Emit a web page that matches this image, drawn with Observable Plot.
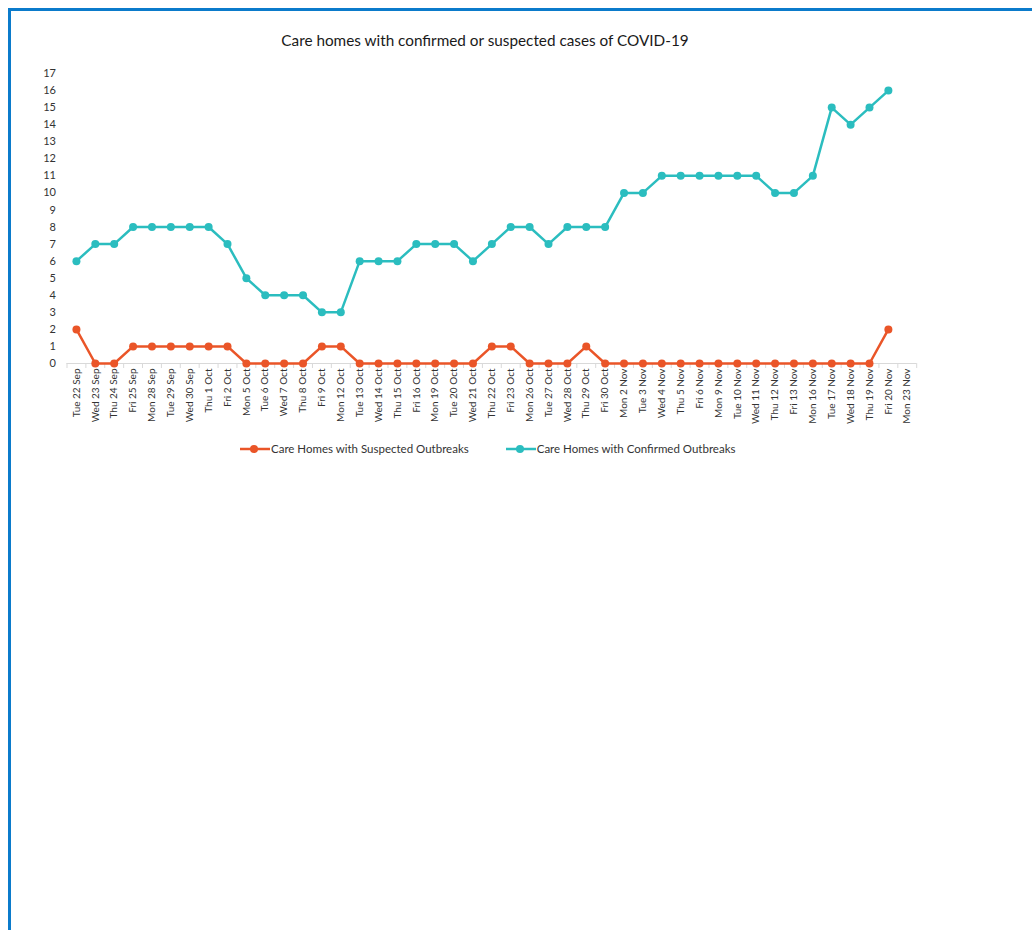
<!DOCTYPE html>
<html>
<head>
<meta charset="utf-8">
<script src="https://cdn.jsdelivr.net/npm/d3@7"></script>
<script src="https://cdn.jsdelivr.net/npm/@observablehq/plot@0.6"></script>
<style>
  html, body { margin: 0; padding: 0; width: 1032px; height: 930px; overflow: hidden; background: #fff; font-family: Lato, "Open Sans", sans-serif; }
  #frame { position: absolute; left: 8px; top: 8px; width: 1030px; height: 930px; border-top: 3px solid #0b7bcb; border-left: 3px solid #0b7bcb; }
  #title { position: absolute; left: 0; top: 31px; width: 970px; text-align: center; font-size: 15.3px; color: #1a1a1a; }
  #chart { position: absolute; left: 0; top: 60px; }
  #legend { position: absolute; top: 442px; left: 240px; font-size: 11.5px; color: #333; display: flex; align-items: center; white-space: nowrap; }
  .item { display: flex; align-items: center; }
  .item svg { margin-right: 1px; }
</style>
</head>
<body>
<div id="frame"></div>
<div id="title">Care homes with confirmed or suspected cases of COVID-19</div>
<div id="chart"></div>
<div id="legend"></div>
<script>
const dates = ["Tue 22 Sep","Wed 23 Sep","Thu 24 Sep","Fri 25 Sep","Mon 28 Sep","Tue 29 Sep","Wed 30 Sep","Thu 1 Oct","Fri 2 Oct","Mon 5 Oct","Tue 6 Oct","Wed 7 Oct","Thu 8 Oct","Fri 9 Oct","Mon 12 Oct","Tue 13 Oct","Wed 14 Oct","Thu 15 Oct","Fri 16 Oct","Mon 19 Oct","Tue 20 Oct","Wed 21 Oct","Thu 22 Oct","Fri 23 Oct","Mon 26 Oct","Tue 27 Oct","Wed 28 Oct","Thu 29 Oct","Fri 30 Oct","Mon 2 Nov","Tue 3 Nov","Wed 4 Nov","Thu 5 Nov","Fri 6 Nov","Mon 9 Nov","Tue 10 Nov","Wed 11 Nov","Thu 12 Nov","Fri 13 Nov","Mon 16 Nov","Tue 17 Nov","Wed 18 Nov","Thu 19 Nov","Fri 20 Nov","Mon 23 Nov"];
const suspected = [2,0,0,1,1,1,1,1,1,0,0,0,0,1,1,0,0,0,0,0,0,0,1,1,0,0,0,1,0,0,0,0,0,0,0,0,0,0,0,0,0,0,0,2];
const confirmed = [6,7,7,8,8,8,8,8,7,5,4,4,4,3,3,6,6,6,7,7,7,6,7,8,8,7,8,8,8,10,10,11,11,11,11,11,11,10,10,11,15,14,15,16];
const yTicks = [0,1,2,3,4,5,6,7,8,9,10,11,12,13,14,15,16,17];
const seriesNames = ["Care Homes with Suspected Outbreaks","Care Homes with Confirmed Outbreaks"];
const colors = ["#ea5528","#2bbdbf"];

const susData = suspected.map((v, i) => ({date: dates[i], value: v}));
const conData = confirmed.map((v, i) => ({date: dates[i], value: v}));

const W = 1032, H = 380, ML = 66.5, MR = 115.8, MT = 13, MB = 77;
const step = (W - ML - MR) / dates.length;

const chart = Plot.plot({
  width: W, height: H,
  marginLeft: ML, marginRight: MR, marginTop: MT, marginBottom: MB,
  style: {fontFamily: "Lato, 'Open Sans', sans-serif", background: "transparent"},
  x: {type: "point", domain: dates, padding: 0.5, axis: null},
  y: {domain: [0, 17], axis: null},
  marks: [
    Plot.ruleY([0], {stroke: "#d9d9d9", strokeWidth: 1}),
    Plot.ruleX(dates, {x: d => d, y1: 0, y2: 0, insetBottom: -5, dx: -step / 2, stroke: "#d9d9d9"}),
    Plot.ruleX(dates.slice(-1), {x: d => d, y1: 0, y2: 0, insetBottom: -5, dx: step / 2, stroke: "#d9d9d9"}),
    Plot.axisY(yTicks, {tickSize: 0, tickPadding: 11, fontSize: 11, fill: "#333", label: null, tickFormat: d => String(d)}),
    Plot.axisX(dates, {tickSize: 0, tickPadding: 5, tickRotate: -90, fontSize: 10, fill: "#333", label: null}),
    Plot.line(susData, {x: "date", y: "value", stroke: colors[0], strokeWidth: 2.5}),
    Plot.dot(susData, {x: "date", y: "value", r: 4, fill: colors[0]}),
    Plot.line(conData, {x: "date", y: "value", stroke: colors[1], strokeWidth: 2.5}),
    Plot.dot(conData, {x: "date", y: "value", r: 4, fill: colors[1]})
  ]
});
document.getElementById("chart").appendChild(chart);

const legend = document.getElementById("legend");
seriesNames.forEach((name, i) => {
  const item = document.createElement("div");
  item.className = "item";
  if (i > 0) item.style.marginLeft = "37px";
  item.innerHTML = `<svg width="30" height="10"><line x1="0" y1="5" x2="30" y2="5" stroke="${colors[i]}" stroke-width="2.5"/><circle cx="14" cy="5" r="4" fill="${colors[i]}"/></svg><span>${name}</span>`;
  legend.appendChild(item);
});
</script>
</body>
</html>
